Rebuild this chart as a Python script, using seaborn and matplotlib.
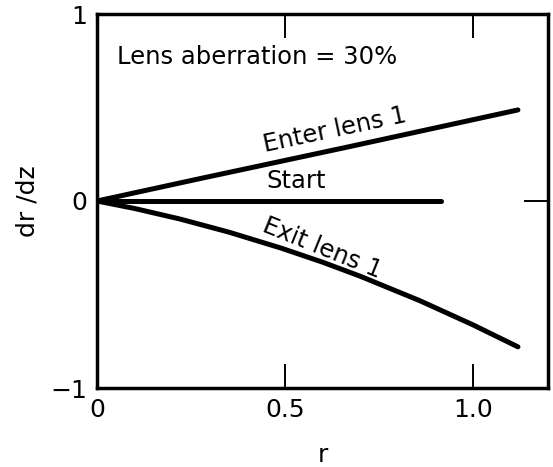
import numpy as np
import pandas as pd
import matplotlib
matplotlib.use("Agg")
import matplotlib.pyplot as plt
import seaborn as sns

# ---- data ----
enter_r = [0.0, 0.27, 0.67, 1.12]
enter_v = [0.0, 0.118, 0.29, 0.487]

start_r = [0.0, 0.915]
start_v = [0.0, 0.0]

exit_r = [0.0, 0.1, 0.22, 0.35, 0.49, 0.6, 0.7, 0.86, 1.0, 1.12]
exit_v = [0.0, -0.04, -0.096, -0.166, -0.252, -0.327, -0.402, -0.534, -0.662, -0.78]

x_ticks = [0.0, 0.5, 1.0]
x_ticklabels = ["0", "0.5", "1.0"]
y_ticks = [-1, 0, 1]
y_ticklabels = ["\u22121", "0", "1"]

title_text = "Lens aberration = 30%"

df = pd.concat([
    pd.DataFrame({"r": enter_r, "v": enter_v, "curve": "Enter lens 1"}),
    pd.DataFrame({"r": start_r, "v": start_v, "curve": "Start"}),
    pd.DataFrame({"r": exit_r, "v": exit_v, "curve": "Exit lens 1"}),
], ignore_index=True)

sns.set_style("white")
plt.rcParams["font.family"] = ["DejaVu Sans"]

fig = plt.figure(figsize=(5.53, 4.67), dpi=100)
ax = fig.add_axes([97 / 553, (467 - 388) / 467, (548 - 97) / 553, (388 - 14) / 467])

sns.lineplot(data=df, x="r", y="v", units="curve", estimator=None, sort=False,
             color="black", linewidth=3.6, ax=ax, legend=False)
for line in ax.get_lines():
    line.set_solid_capstyle("round")
    line.set_solid_joinstyle("round")

ax.set_xlim(0, 1.2)
ax.set_ylim(-1, 1)

for s in ax.spines.values():
    s.set_linewidth(2.5)
    s.set_color("black")
    s.set_visible(True)

ax.set_xticks(x_ticks)
ax.set_xticklabels(x_ticklabels)
ax.set_yticks(y_ticks)
ax.set_yticklabels(y_ticklabels)

ax.tick_params(axis="x", direction="in", length=17, width=1.4, top=True,
               bottom=True, labelsize=18, pad=7, colors="black")
ax.tick_params(axis="y", direction="in", length=17, width=1.4, right=True,
               left=False, labelsize=18, pad=7, colors="black")

ax.set_xlabel("r", fontsize=18, color="black", va="center")
ax.set_ylabel("dr /dz", fontsize=18, color="black", va="center")
ax.xaxis.set_label_coords(0.5, -0.179)
ax.yaxis.set_label_coords(-0.155, 0.5)

ax.text(0.053, 0.77, title_text, fontsize=17.5, ha="left", va="center", color="black")
ax.text(0.633, 0.38, "Enter lens 1", fontsize=17.5, ha="center", va="center",
        rotation=12, rotation_mode="anchor", color="black")
ax.text(0.53, 0.107, "Start", fontsize=17.5, ha="center", va="center", color="black")
ax.text(0.6, -0.25, "Exit lens 1", fontsize=17.5, ha="center", va="center",
        rotation=-22, rotation_mode="anchor", color="black")

ax.grid(False)
fig.savefig("out.png", dpi=100, facecolor="white")
